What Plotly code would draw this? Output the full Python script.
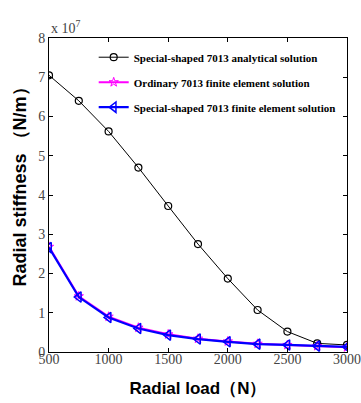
import plotly.graph_objects as go

load = [500, 750, 1000, 1250, 1500, 1750, 2000, 2250, 2500, 2750, 3000]
analytical = [7.05, 6.4, 5.62, 4.7, 3.72, 2.75, 1.87, 1.07, 0.52, 0.22, 0.18]
ordinary_fe = [2.68, 1.42, 0.9, 0.62, 0.45, 0.34, 0.27, 0.21, 0.18, 0.15, 0.12]
special_fe = [2.66, 1.4, 0.88, 0.6, 0.43, 0.33, 0.26, 0.2, 0.18, 0.15, 0.13]
names = ["Special-shaped 7013 analytical solution",
         "Ordinary 7013 finite element solution",
         "Special-shaped 7013 finite element solution"]
x_ticks = [500, 1000, 1500, 2000, 2500, 3000]
y_ticks = [0, 1, 2, 3, 4, 5, 6, 7, 8]

fig = go.Figure()
fig.add_trace(go.Scatter(x=load, y=analytical, name=names[0], mode="lines+markers",
                         line=dict(color="black", width=1),
                         marker=dict(symbol="circle-open", size=7, color="black", line=dict(width=1.2)),
                         legendgroup="a"))
fig.add_trace(go.Scatter(x=load, y=ordinary_fe, name=names[1], mode="lines+markers",
                         line=dict(color="#ff00ff", width=2),
                         marker=dict(symbol="star-open", size=7, color="#ff00ff"),
                         legendgroup="b"))
fig.add_trace(go.Scatter(x=load, y=special_fe, name=names[2], mode="lines+markers",
                         line=dict(color="#0000ff", width=2.2),
                         marker=dict(symbol="triangle-left-open", size=9, color="#0000ff", line=dict(width=1.5)),
                         legendgroup="c"))

axis_common = dict(showline=True, linecolor="black", linewidth=1, mirror="ticks",
                   ticks="inside", ticklen=4, tickcolor="black", showgrid=False, zeroline=False,
                   automargin=False,
                   tickfont=dict(family="Liberation Serif", size=14, color="#444"))

fig.update_layout(
    width=361, height=403,
    margin=dict(l=49, r=14, t=38, b=51, autoexpand=False),
    paper_bgcolor="white", plot_bgcolor="white",
    showlegend=True,
    legend=dict(x=0.15, y=0.985, xanchor="left", yanchor="top", bgcolor="rgba(0,0,0,0)",
                font=dict(family="Liberation Serif", size=11, color="black", weight="bold"),
                traceorder="grouped", tracegroupgap=6, itemwidth=30),
    xaxis=dict(range=[500, 3000], tickvals=x_ticks, ticklabelstandoff=-6, **axis_common,
               title=dict(text="<b>Radial load（N）</b>", standoff=16,
                          font=dict(family="Liberation Sans", size=17, color="black"))),
    yaxis=dict(range=[0, 8], tickvals=y_ticks, **axis_common),
    annotations=[
        dict(text="x 10<sup>7</sup>", xref="paper", yref="paper", x=0.0, y=1.0,
             xanchor="left", yanchor="bottom", showarrow=False, yshift=0, xshift=0,
             font=dict(family="Liberation Serif", size=14, color="#444")),
        dict(text="<b>Radial stiffness （N/m）</b>", xref="paper", yref="paper",
             x=-0.097, y=0.54, xanchor="center", yanchor="middle", textangle=-90,
             showarrow=False, font=dict(family="Liberation Sans", size=18, color="black")),
    ],
)

fig.write_html("out.html", config={"displayModeBar": False},
               post_script="document.body.style.margin='0';")
